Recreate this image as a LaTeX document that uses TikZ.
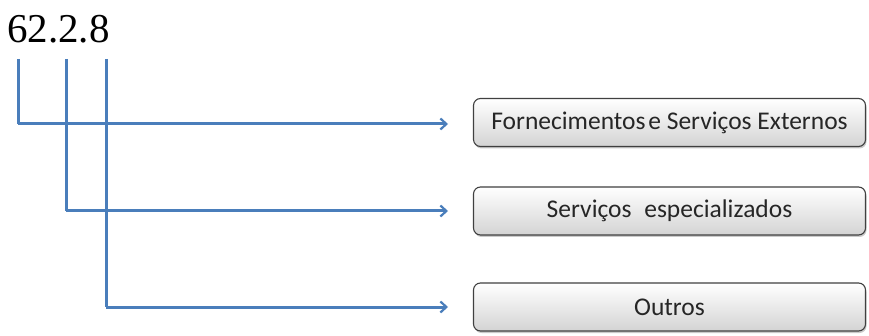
\documentclass[tikz,border=0pt]{standalone}
\usepackage{fontspec}
\setmainfont{Liberation Serif}
\newfontfamily\boxfont{Carlito}
\usetikzlibrary{arrows.meta,shadows}
\definecolor{lineblue}{HTML}{4A7EBB}
\definecolor{boxborder}{HTML}{404040}
\begin{document}
\begin{tikzpicture}[x=1pt,y=-1pt,
  conn/.style={draw=lineblue,line width=3pt,-{Straight Barb[length=6pt,width=11pt,line width=2.2pt]}},
  trunk/.style={draw=lineblue,line width=3pt},
  itembox/.style={draw=boxborder,line width=1.1pt,rounded corners=7pt,minimum width=392pt,minimum height=48pt,
    top color=white,bottom color=black!17,font=\boxfont\fontsize{25.5}{28}\selectfont,text=black!85,
    drop shadow={shadow xshift=1pt,shadow yshift=-2pt,opacity=0.35,fill=black!60}}]
\useasboundingbox (0,0) rectangle (869,336);
\node[anchor=base west,inner sep=0pt,font=\fontsize{41}{44}\selectfont] (code) at (7,43) {62.2.8};
\node[itembox] (b1) at (669.5,122.5) {Fornecimentos\hspace{-0.12em} e Serviços Externos};
\node[itembox] (b2) at (669.5,211) {Serviços\hspace{0.5em}especializados};
\node[itembox] (b3) at (669.5,307) {Outros};
\coordinate (t1) at (18,59);
\coordinate (t2) at (66,59);
\coordinate (t3) at (106,59);
\coordinate (e1) at (448,124);
\coordinate (e2) at (448,211);
\coordinate (e3) at (448,307);
\draw[trunk] (t1) -- (t1 |- e1);
\draw[trunk] (t2) -- (t2 |- e2);
\draw[trunk] (t3) -- (t3 |- e3);
\draw[conn] (t1 |- e1) -- (e1);
\draw[conn] (t2 |- e2) -- (e2);
\draw[conn] (t3 |- e3) -- (e3);
\end{tikzpicture}
\end{document}
